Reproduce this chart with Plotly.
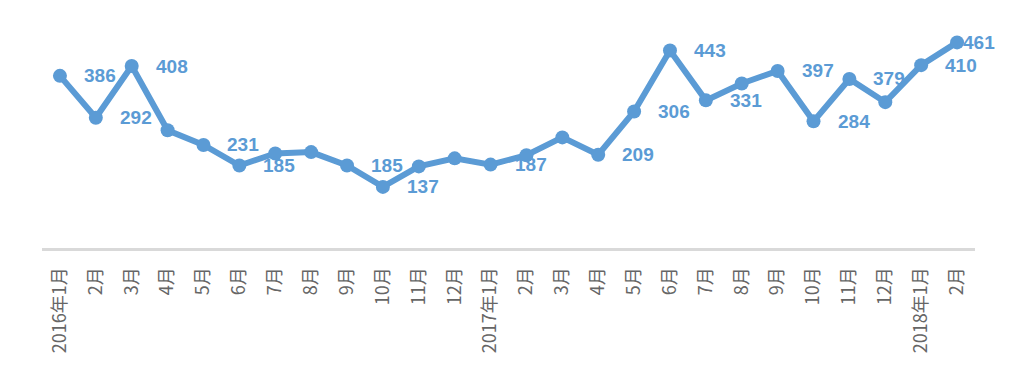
import plotly.graph_objects as go

months = ["2016年1月", "2月", "3月", "4月", "5月", "6月", "7月", "8月", "9月", "10月", "11月", "12月",
          "2017年1月", "2月", "3月", "4月", "5月", "6月", "7月", "8月", "9月", "10月", "11月", "12月",
          "2018年1月", "2月"]
categories = [f"{i}" for i in range(len(months))]
values = [386, 292, 408, 264, 231, 185, 212, 215, 185, 137, 183, 201, 187, 208, 248, 209,
          306, 443, 331, 369, 397, 284, 379, 327, 410, 461]
labeled = [0, 1, 2, 4, 5, 8, 9, 12, 15, 16, 17, 18, 20, 21, 22, 24, 25]

BLUE = "#5B9BD5"

fig = go.Figure()
fig.add_trace(go.Scatter(
    x=categories, y=values, mode="lines+markers",
    line=dict(color=BLUE, width=6),
    marker=dict(color=BLUE, size=14),
    showlegend=False, hoverinfo="skip",
))

for i in labeled:
    fig.add_annotation(
        x=categories[i], y=values[i], text=f"<b>{values[i]}</b>",
        showarrow=False, xshift=22 if i == len(values) - 1 else 40,
        font=dict(family="Liberation Sans, Arial, sans-serif", size=19, color=BLUE),
        xanchor="center", yanchor="middle",
    )

fig.update_layout(
    width=1030, height=388,
    margin=dict(l=42, r=55, t=25, b=140),
    paper_bgcolor="white", plot_bgcolor="white",
    xaxis=dict(
        type="category", tickmode="array", tickvals=categories, ticktext=months,
        range=[-0.5, len(months) - 0.5],
        tickangle=-90, showgrid=False, zeroline=False,
        showline=True, linecolor="#d9d9d9", linewidth=3,
        ticks="", ticklabelstandoff=9,
        tickfont=dict(family="Noto Sans CJK SC, sans-serif", size=18, color="#666666"),
    ),
    yaxis=dict(range=[0, 500], visible=False, showgrid=False, zeroline=False),
)

fig.write_html("out.html")
